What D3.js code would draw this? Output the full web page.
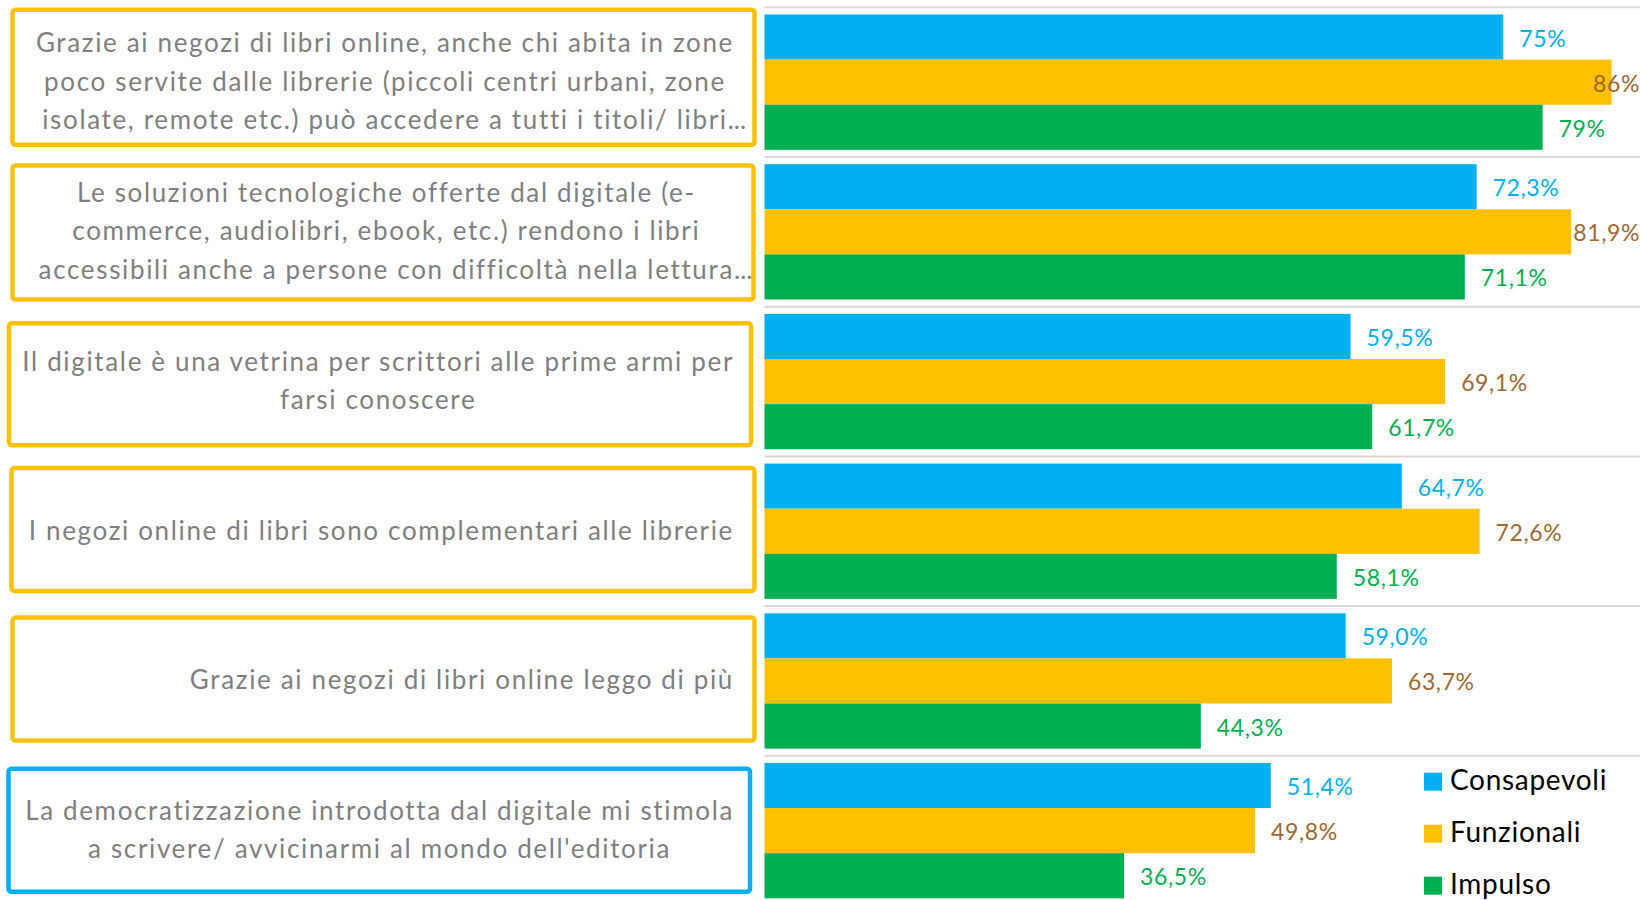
<!DOCTYPE html>
<html>
<head>
<meta charset="utf-8">
<script src="https://cdn.jsdelivr.net/npm/d3@7"></script>
<style>
    body { margin: 0; background: #fff; }
    svg text { font-family: Lato, "Noto Sans", sans-serif; }
</style>
</head>
<body>
<svg id="chart" width="1640" height="900"></svg>
<script>
    "use strict";

    //Data (lines of each category label split by "|")
    var categories = [
        "Grazie ai negozi di libri online, anche chi abita in zone|poco servite dalle librerie (piccoli centri urbani, zone|isolate, remote etc.) può accedere a tutti i titoli/ libri...",
        "Le soluzioni tecnologiche offerte dal digitale (e-|commerce, audiolibri, ebook, etc.) rendono i libri|accessibili anche a persone con difficoltà nella lettura...",
        "Il digitale è una vetrina per scrittori alle prime armi per|farsi conoscere",
        "I negozi online di libri sono complementari alle librerie",
        "Grazie ai negozi di libri online leggo di più",
        "La democratizzazione introdotta dal digitale mi stimola|a scrivere/ avvicinarmi al mondo dell'editoria"
    ];
    var seriesNames = ["Consapevoli", "Funzionali", "Impulso"];
    var consapevoli = [0.75, 0.723, 0.595, 0.647, 0.590, 0.514];
    var funzionali = [0.86, 0.819, 0.691, 0.726, 0.637, 0.498];
    var impulso = [0.79, 0.711, 0.617, 0.581, 0.443, 0.365];
    var consapevoliLabels = ["75%", "72,3%", "59,5%", "64,7%", "59,0%", "51,4%"];
    var funzionaliLabels = ["86%", "81,9%", "69,1%", "72,6%", "63,7%", "49,8%"];
    var impulsoLabels = ["79%", "71,1%", "61,7%", "58,1%", "44,3%", "36,5%"];

    //Layout
    var width = 1640, height = 900;
    var x0 = 764.5;
    var pxPerUnit = 985;
    var labelRight = 734;
    var lineGap = 38.5;
    var barColors = ["#00B0F0", "#FFC000", "#00B050"];
    var valueColors = ["#00B0F0", "#A0692F", "#00B050"];
    var boxColors = ["#FFC000", "#FFC000", "#FFC000", "#FFC000", "#FFC000", "#00B0F0"];
    //hand drawn boxes round the labels: [left, top offset, right, bottom offset] from group start
    var boxLayout = [
        [12.5, 2.5, 754.5, 137.5],
        [12.5, 8.5, 753.5, 142.5],
        [9, 16.5, 751, 138.5],
        [11.5, 11.5, 754.5, 134.5],
        [12.5, 11.5, 754.5, 134.5],
        [8.5, 13, 750, 136]
    ];

    var series = [consapevoli, funzionali, impulso];
    var seriesLabels = [consapevoliLabels, funzionaliLabels, impulsoLabels];

    var svg = d3.select("#chart");

    var x = d3.scaleLinear().domain([0, 1]).range([x0, x0 + pxPerUnit]);
    var y = d3.scaleBand()
        .domain(d3.range(categories.length))
        .range([7.3, 7.3 + 6 * 149.7])
        .paddingInner(0.096)
        .paddingOuter(0.048);
    var ySub = d3.scaleBand().domain(d3.range(series.length)).range([0, y.bandwidth()]);
    var gapHalf = y.step() * y.paddingInner() / 2;

    //Gridlines at group boundaries
    svg.append("g").selectAll("line")
        .data(d3.range(categories.length))
        .join("line")
        .attr("x1", x0)
        .attr("x2", width)
        .attr("y1", function (d) { return y(d) - gapHalf; })
        .attr("y2", function (d) { return y(d) - gapHalf; })
        .attr("stroke", "#D9D9D9")
        .attr("stroke-width", 2);

    //Bars
    var groups = svg.append("g").selectAll("g")
        .data(d3.range(categories.length))
        .join("g")
        .attr("transform", function (d) { return "translate(0," + y(d) + ")"; });

    groups.selectAll("rect")
        .data(function (c) {
            return series.map(function (s, i) { return { s: i, v: s[c], c: c }; });
        })
        .join("rect")
        .attr("x", x(0))
        .attr("y", function (d) { return ySub(d.s); })
        .attr("width", function (d) { return x(d.v) - x(0); })
        .attr("height", ySub.bandwidth())
        .attr("fill", function (d) { return barColors[d.s]; });

    //Value labels (pushed back inside the chart if they would run off the edge)
    groups.selectAll("text.val")
        .data(function (c) {
            return series.map(function (s, i) { return { s: i, v: s[c], c: c }; });
        })
        .join("text")
        .attr("class", "val")
        .attr("y", function (d) { return ySub(d.s) + ySub.bandwidth() / 2 + 9.5; })
        .attr("fill", function (d) { return valueColors[d.s]; })
        .style("font-size", "23px")
        .style("letter-spacing", "0.6px")
        .text(function (d) { return seriesLabels[d.s][d.c]; })
        .attr("x", function (d) {
            var w = this.getComputedTextLength();
            return Math.min(x(d.v) + 16, width - w);
        });

    //Category boxes
    svg.append("g").selectAll("rect")
        .data(d3.range(categories.length))
        .join("rect")
        .attr("x", function (d) { return boxLayout[d][0]; })
        .attr("y", function (d) { return y(d) - gapHalf + boxLayout[d][1]; })
        .attr("width", function (d) { return boxLayout[d][2] - boxLayout[d][0]; })
        .attr("height", function (d) { return boxLayout[d][3] - boxLayout[d][1]; })
        .attr("rx", 3)
        .attr("fill", "none")
        .attr("stroke", function (d) { return boxColors[d]; })
        .attr("stroke-width", 4.5);

    //Category labels: lines centred on each other, block right aligned
    categories.forEach(function (cat, ci) {
        var lines = cat.split("|");
        var cy = y(ci) + y.bandwidth() / 2;
        var g = svg.append("g");
        var items = lines.map(function (line, li) {
            var core = line.replace(/\.\.\.$/, "");
            var t = g.append("text")
                .attr("y", cy + 8.5 + (li - (lines.length - 1) / 2) * lineGap)
                .attr("fill", "#7F7F7F")
                .style("font-size", "26px")
                .style("letter-spacing", "1.65px")
                .text(core);
            var cw = t.node().getComputedTextLength();
            if (core !== line) {
                t.append("tspan").style("letter-spacing", "0px").text("...");
            }
            return { t: t, w: cw };
        });
        var blockW = d3.max(items, function (d) { return d.w; });
        var centre = labelRight - blockW / 2;
        items.forEach(function (d) {
            d.t.attr("x", centre - d.w / 2);
        });
    });

    //Legend
    var legend = svg.append("g").selectAll("g")
        .data(seriesNames)
        .join("g")
        .attr("transform", function (d, i) { return "translate(1424," + (772.7 + i * 52) + ")"; });
    legend.append("rect")
        .attr("width", 18)
        .attr("height", 18)
        .attr("fill", function (d, i) { return barColors[i]; });
    legend.append("text")
        .attr("x", 26)
        .attr("y", 16.8)
        .attr("fill", "#000")
        .style("font-size", "28px")
        .style("letter-spacing", "0.7px")
        .text(function (d) { return d; });
</script>
</body>
</html>
